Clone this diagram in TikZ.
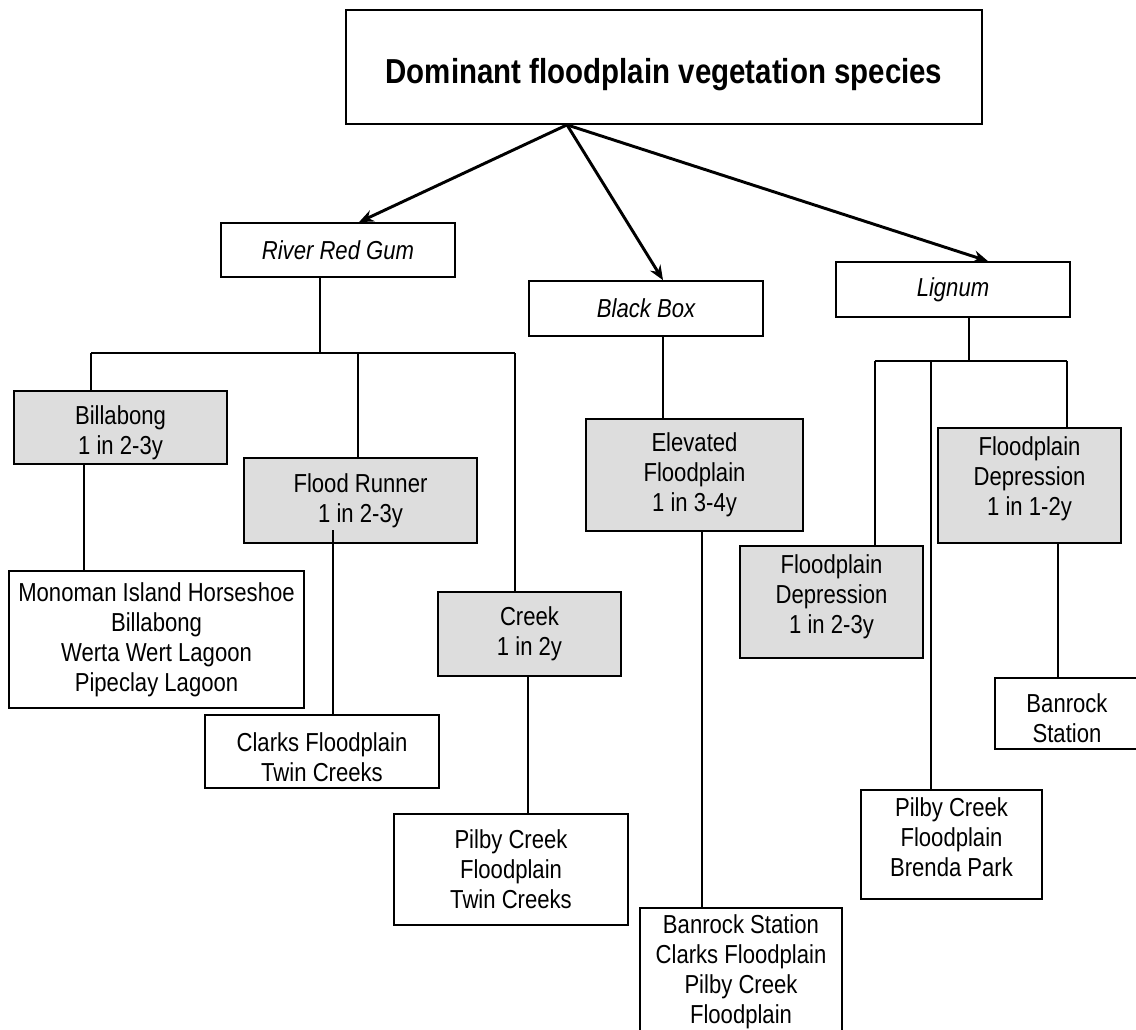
\documentclass[tikz,border=0pt]{standalone}
\usepackage{fontspec}
\setmainfont{Liberation Sans}[FakeStretch=0.85]
\usepackage{tikz}
\usetikzlibrary{arrows.meta}
\definecolor{boxgray}{RGB}{221,221,221}
\tikzset{
  box/.style={draw, line width=1.3pt, align=center, inner sep=0pt, font=\fontsize{19.5}{22.5}\selectfont},
  habitat/.style={box, fill=boxgray},
  species/.style={box, font=\fontsize{19.5}{22.5}\selectfont\itshape},
  conn/.style={line width=1.3pt},
  arr/.style={line width=2.2pt, -{Stealth[length=11pt,width=9pt]}}
}

\begin{document}
\begin{tikzpicture}[x=0.75pt,y=0.75pt,yscale=-1,xscale=1]
\useasboundingbox (0,0) rectangle (1136,1029);

% Title
\node (title) [box, minimum width=477pt, minimum height=85.5pt, text height=24pt, text depth=0pt, font=\fontsize{26}{30}\selectfont\bfseries] at (664,67) {Dominant floodplain vegetation species};

% Species
\node (rrg) [species, minimum width=175.5pt, minimum height=40.5pt] at (338,250) {River Red Gum};
\node (bbox) [species, minimum width=175.5pt, minimum height=41.25pt] at (646,308.5) {Black Box};
\node (lig) [species, minimum width=175.5pt, minimum height=41.25pt] at (953,289.5) {Lignum};

% River Red Gum habitats
\node (bill) [habitat, minimum width=159.75pt, minimum height=54.75pt, text height=44.2pt] at (120.5,427.5) {Billabong\\1 in 2-3y};
\node (flood) [habitat, minimum width=174.75pt, minimum height=63.75pt] at (360.5,500.5) {Flood Runner\\1 in 2-3y};
\node (creek) [habitat, minimum width=137.25pt, minimum height=63pt] at (529.5,634) {Creek\\1 in 2y};
\node (mono) [box, minimum width=221.25pt, minimum height=102.75pt] at (156.5,639.5) {Monoman Island Horseshoe\\Billabong\\Werta Wert Lagoon\\Pipeclay Lagoon};
\node (clarks) [box, minimum width=175.5pt, minimum height=54.75pt, text height=45.7pt] at (322,751.5) {Clarks Floodplain\\Twin Creeks};
\node (pilbyA) [box, minimum width=175.5pt, minimum height=83.25pt] at (511,869.5) {Pilby Creek\\Floodplain\\Twin Creeks};

% Black Box habitats
\node (elev) [habitat, minimum width=162.75pt, minimum height=84pt] at (694.5,475) {Elevated\\Floodplain\\1 in 3-4y};
\node (banA) [box, minimum width=151.5pt, minimum height=95.25pt] at (741,971.5) {Banrock Station\\Clarks Floodplain\\Pilby Creek\\Floodplain};

% Lignum habitats
\node (fdA) [habitat, minimum width=137.25pt, minimum height=84pt, text depth=11.6pt] at (831.5,602) {Floodplain\\Depression\\1 in 2-3y};
\node (fdB) [habitat, minimum width=137.25pt, minimum height=86.25pt, text depth=14.6pt] at (1029.5,485.5) {Floodplain\\Depression\\1 in 1-2y};
\node (banB) [box, minimum width=108pt, minimum height=53.25pt, text height=44.2pt] at (1067,713.5) {Banrock\\Station};
\node (pilbyB) [box, minimum width=135.75pt, minimum height=81.75pt, text depth=10.5pt] at (951.5,844.5) {Pilby Creek\\Floodplain\\Brenda Park};

% Arrows from title
\draw[arr] ([xshift=-72.75pt]title.south) -- ([xshift=15.75pt]rrg.north);
\draw[arr] ([xshift=-72.75pt]title.south) -- ([xshift=12.75pt]bbox.north);
\draw[arr] ([xshift=-72.75pt]title.south) -- ([xshift=26.25pt]lig.north);

% River Red Gum tree
\coordinate (rj) at (320,353);
\coordinate (rb1) at (91,353);
\coordinate (rb2) at (358,353);
\coordinate (rb3) at (515,353);
\draw[conn] (rrg.south -| rj) -- (rj);
\draw[conn] (rb1) -- (rb3);
\draw[conn] (rb1) -- (bill.north -| rb1);
\draw[conn] (rb2) -- (flood.north -| rb2);
\draw[conn] (rb3) -- (creek.north -| rb3);
\coordinate (bm) at (84,464);
\draw[conn] (bm) -- (mono.north -| bm);
\coordinate (fc) at (333,530);
\draw[conn] (fc) -- (clarks.north -| fc);
\coordinate (cp) at (528,676);
\draw[conn] (cp) -- (pilbyA.north -| cp);

% Black Box tree
\coordinate (bj) at (663,336);
\draw[conn] (bj) -- (elev.north -| bj);
\coordinate (eb) at (702,531);
\draw[conn] (eb) -- (banA.north -| eb);

% Lignum tree
\coordinate (lj) at (969,361);
\coordinate (lb1) at (875,361);
\coordinate (lb2) at (931,361);
\coordinate (lb3) at (1067,361);
\draw[conn] (lig.south -| lj) -- (lj);
\draw[conn] (lb1) -- (lb3);
\draw[conn] (lb1) -- (fdA.north -| lb1);
\draw[conn] (lb2) -- (pilbyB.north -| lb2);
\draw[conn] (lb3) -- (fdB.north -| lb3);
\coordinate (fb) at (1058,543);
\draw[conn] (fb) -- (banB.north -| fb);

\end{tikzpicture}
\end{document}
